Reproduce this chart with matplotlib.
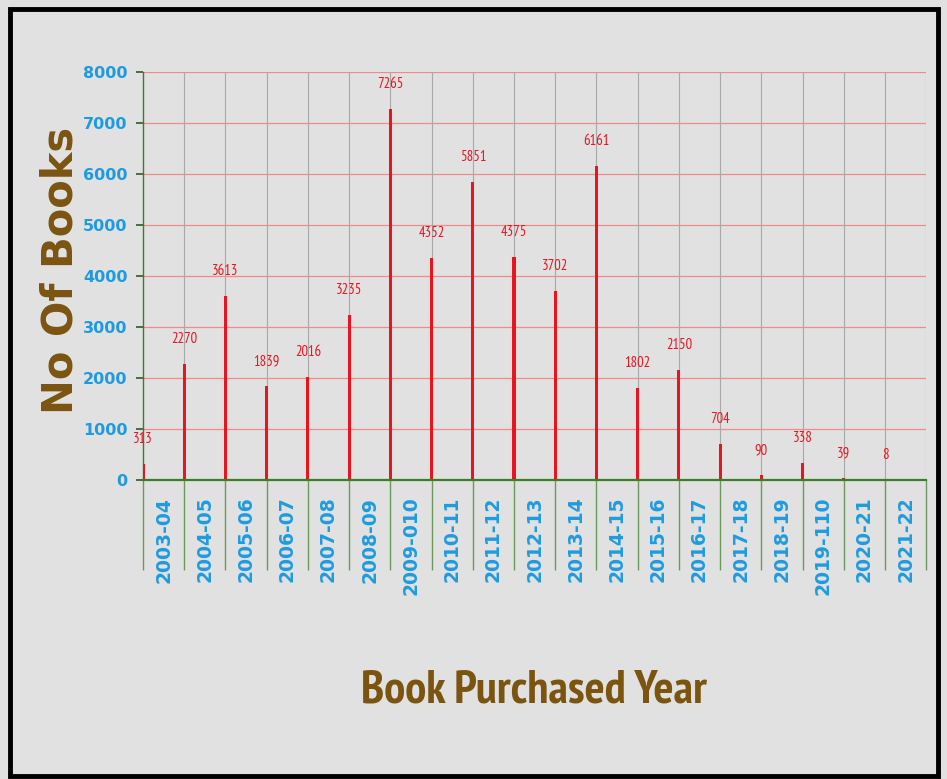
import matplotlib
matplotlib.use('Agg')
from matplotlib import pyplot as plt
from matplotlib.patches import Rectangle

#== dados ==#
anos = ['2003-04', '2004-05', '2005-06', '2006-07', '2007-08', '2008-09',
        '2009-010', '2010-11', '2011-12', '2012-13', '2013-14', '2014-15',
        '2015-16', '2016-17', '2017-18', '2018-19', '2019-110', '2020-21',
        '2021-22']
livros = [313, 2270, 3613, 1839, 2016, 3235, 7265, 4352, 5851, 4375, 3702,
          6161, 1802, 2150, 704, 90, 338, 39, 8]

fundo = '#e1e1e1'
azul = '#1e9be0'
marrom = '#7b5410'
vermelho = '#e8141e'
verde = '#3a7d2a'
narrow = ['PT Sans Narrow', 'DejaVu Sans']

fig = plt.figure(figsize=(9.47, 7.79), dpi=100, facecolor=fundo)
ax = fig.add_axes([0.151, 0.3838, 0.827, 0.5238])
ax.set_facecolor(fundo)

x = list(range(len(livros)))
ax.bar(x, livros, width=0.075, color=vermelho, zorder=3)
for xi, v in zip(x, livros):
    ax.annotate(str(v), (xi, v), textcoords='offset points', xytext=(0, 18),
                ha='center', va='center', color=vermelho, fontsize=10.5,
                family=narrow, zorder=4)

ax.set_xlim(0, len(livros))
ax.set_ylim(0, 8000)
ax.set_yticks(range(0, 8001, 1000))

# grade
for y in range(1000, 8001, 1000):
    ax.axhline(y, color='#f08a8a', lw=0.9, zorder=1)
for xi in range(1, len(livros) + 1):
    ax.axvline(xi, color='#a8a8a8', lw=0.8, zorder=1)

# eixo x: ticks longos nas divisas, rotulos no meio
ax.set_xticks(range(0, len(livros) + 1))
ax.set_xticklabels([])
ax.tick_params(axis='x', which='major', length=65, width=1, color='#6a9a5a',
               direction='out')
ax.set_xticks([i + 0.5 for i in x], minor=True)
ax.set_xticklabels(anos, minor=True, rotation=90, va='top', ha='center',
                   color=azul, fontsize=13.5, fontweight='bold')
ax.tick_params(axis='x', which='minor', length=0, pad=12)

ax.tick_params(axis='y', length=5, width=1.2, color='#2f5a20', pad=6)
for lb in ax.get_yticklabels():
    lb.set_color(azul)
    lb.set_fontsize(11.5)
    lb.set_fontweight('bold')

for s in ['top', 'right']:
    ax.spines[s].set_visible(False)
ax.spines['left'].set_color(verde)
ax.spines['bottom'].set_color(verde)
ax.spines['bottom'].set_linewidth(1.6)
ax.spines['left'].set_linewidth(1.0)
ax.spines['bottom'].set_zorder(5)

fig.text(0.064, 0.653, 'No Of Books', rotation=90, ha='center', va='center',
         color=marrom, fontsize=30, fontweight='bold')
fig.text(0.564, 0.114, 'Book Purchased Year', ha='center', va='center',
         color=marrom, fontsize=34, fontweight='bold', family=narrow)

# moldura preta
fig.patches.append(Rectangle((0.011, 0.004), 0.98, 0.984, transform=fig.transFigure,
                             fill=False, edgecolor='black', lw=3.5))

fig.savefig('out.png', dpi=100, facecolor=fundo)
